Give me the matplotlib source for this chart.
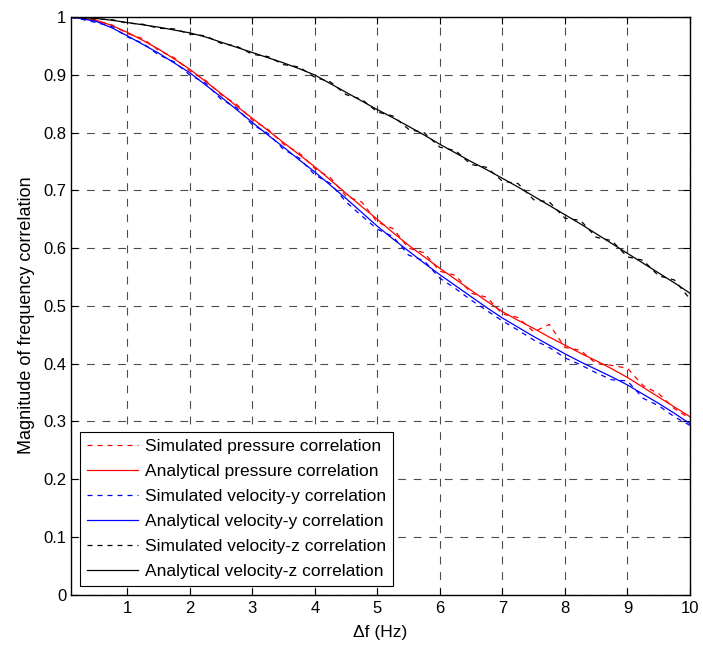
import numpy as np
import matplotlib
matplotlib.use("Agg")
import matplotlib.pyplot as plt

plt.rcParams['font.family'] = ['Liberation Sans', 'DejaVu Sans']

df = [0.1, 0.25, 0.5, 0.75, 1.0, 1.25, 1.5, 1.75, 2.0, 2.25, 2.5, 2.75, 3.0, 3.25,
      3.5, 3.75, 4.0, 4.25, 4.5, 4.75, 5.0, 5.25, 5.5, 5.75, 6.0, 6.25, 6.5, 6.75,
      7.0, 7.25, 7.5, 7.75, 8.0, 8.25, 8.5, 8.75, 9.0, 9.25, 9.5, 9.75, 10.0]

sim_pressure = [1.000, 0.998, 0.994, 0.987, 0.972, 0.963, 0.943, 0.930, 0.907, 0.891,
                0.866, 0.849, 0.822, 0.806, 0.780, 0.765, 0.738, 0.722, 0.690, 0.680,
                0.645, 0.634, 0.600, 0.592, 0.560, 0.553, 0.522, 0.515, 0.486, 0.480,
                0.455, 0.468, 0.428, 0.423, 0.400, 0.397, 0.392, 0.362, 0.348, 0.322,
                0.305]
ana_pressure = [1.000, 0.999, 0.995, 0.986, 0.974, 0.960, 0.945, 0.928, 0.910, 0.889,
                0.868, 0.846, 0.825, 0.804, 0.783, 0.762, 0.741, 0.718, 0.695, 0.672,
                0.650, 0.627, 0.605, 0.585, 0.565, 0.546, 0.527, 0.508, 0.490, 0.475,
                0.461, 0.446, 0.432, 0.418, 0.405, 0.391, 0.376, 0.359, 0.342, 0.325,
                0.308]
sim_vy = [1.000, 0.997, 0.991, 0.984, 0.966, 0.955, 0.935, 0.923, 0.900, 0.886,
          0.858, 0.843, 0.814, 0.799, 0.771, 0.756, 0.727, 0.712, 0.680, 0.656,
          0.633, 0.620, 0.588, 0.578, 0.548, 0.530, 0.510, 0.492, 0.474, 0.458,
          0.441, 0.428, 0.410, 0.398, 0.384, 0.372, 0.370, 0.340, 0.327, 0.308,
          0.293]
ana_vy = [1.000, 0.998, 0.993, 0.982, 0.968, 0.953, 0.938, 0.921, 0.904, 0.883,
          0.862, 0.840, 0.818, 0.796, 0.775, 0.753, 0.732, 0.709, 0.686, 0.662,
          0.638, 0.616, 0.595, 0.574, 0.554, 0.535, 0.516, 0.497, 0.479, 0.463,
          0.447, 0.432, 0.417, 0.403, 0.390, 0.377, 0.363, 0.347, 0.331, 0.314,
          0.296]
sim_vz = [1.000, 0.999, 0.997, 0.996, 0.990, 0.988, 0.981, 0.980, 0.971, 0.968,
          0.955, 0.950, 0.936, 0.932, 0.918, 0.914, 0.896, 0.888, 0.866, 0.858,
          0.836, 0.829, 0.806, 0.800, 0.775, 0.769, 0.745, 0.740, 0.716, 0.712,
          0.684, 0.680, 0.652, 0.648, 0.619, 0.613, 0.585, 0.579, 0.552, 0.545,
          0.512]
ana_vz = [1.000, 1.000, 0.998, 0.995, 0.991, 0.987, 0.983, 0.978, 0.973, 0.966,
          0.957, 0.948, 0.939, 0.930, 0.921, 0.911, 0.900, 0.885, 0.870, 0.855,
          0.840, 0.826, 0.811, 0.796, 0.780, 0.765, 0.750, 0.736, 0.721, 0.706,
          0.690, 0.674, 0.658, 0.642, 0.625, 0.608, 0.591, 0.574, 0.557, 0.540,
          0.522]

labels = ["Simulated pressure correlation", "Analytical pressure correlation",
          "Simulated velocity-y correlation", "Analytical velocity-y correlation",
          "Simulated velocity-z correlation", "Analytical velocity-z correlation"]

fig = plt.figure(figsize=(7.03, 6.46), dpi=100)
ax = fig.add_axes([0.101, 0.0797, 0.8805, 0.8935])

dash = (0, (4, 4))
lw = 0.9
ax.plot(df, sim_pressure, color='red', linestyle=dash, lw=lw, label=labels[0])
ax.plot(df, ana_pressure, color='red', linestyle='-', lw=lw, label=labels[1])
ax.plot(df, sim_vy, color='blue', linestyle=dash, lw=lw, label=labels[2])
ax.plot(df, ana_vy, color='blue', linestyle='-', lw=lw, label=labels[3])
ax.plot(df, sim_vz, color='black', linestyle=dash, lw=lw, label=labels[4])
ax.plot(df, ana_vz, color='black', linestyle='-', lw=lw, label=labels[5])

ax.set_xlim(0.1, 10)
ax.set_ylim(0, 1)
ax.set_xticks(range(1, 11))
ax.set_yticks([i / 10 for i in range(11)])
ax.set_yticklabels(["0", "0.1", "0.2", "0.3", "0.4", "0.5", "0.6", "0.7", "0.8", "0.9", "1"])
ax.tick_params(direction='in', top=True, right=True, labelsize=12, length=5, width=0.8)
ax.tick_params(axis='x', pad=5)
ax.grid(True, color='black', linestyle=(0, (7, 7)), linewidth=0.8, alpha=0.7)
for s in ax.spines.values():
    s.set_linewidth(1.0)

ax.set_xlabel("\u0394f (Hz)", fontsize=12.5, labelpad=6)
ax.set_ylabel("Magnitude of frequency correlation", fontsize=13)
ax.yaxis.set_label_coords(-0.058, 0.484)

leg = ax.legend(loc='lower left', fontsize=12.5, fancybox=False, framealpha=1,
                edgecolor='black', handlelength=2.95, borderaxespad=0.5,
                labelspacing=0.565, handletextpad=0.4, borderpad=0.4)
leg.get_frame().set_linewidth(0.8)

fig.savefig("out.png", dpi=100)
